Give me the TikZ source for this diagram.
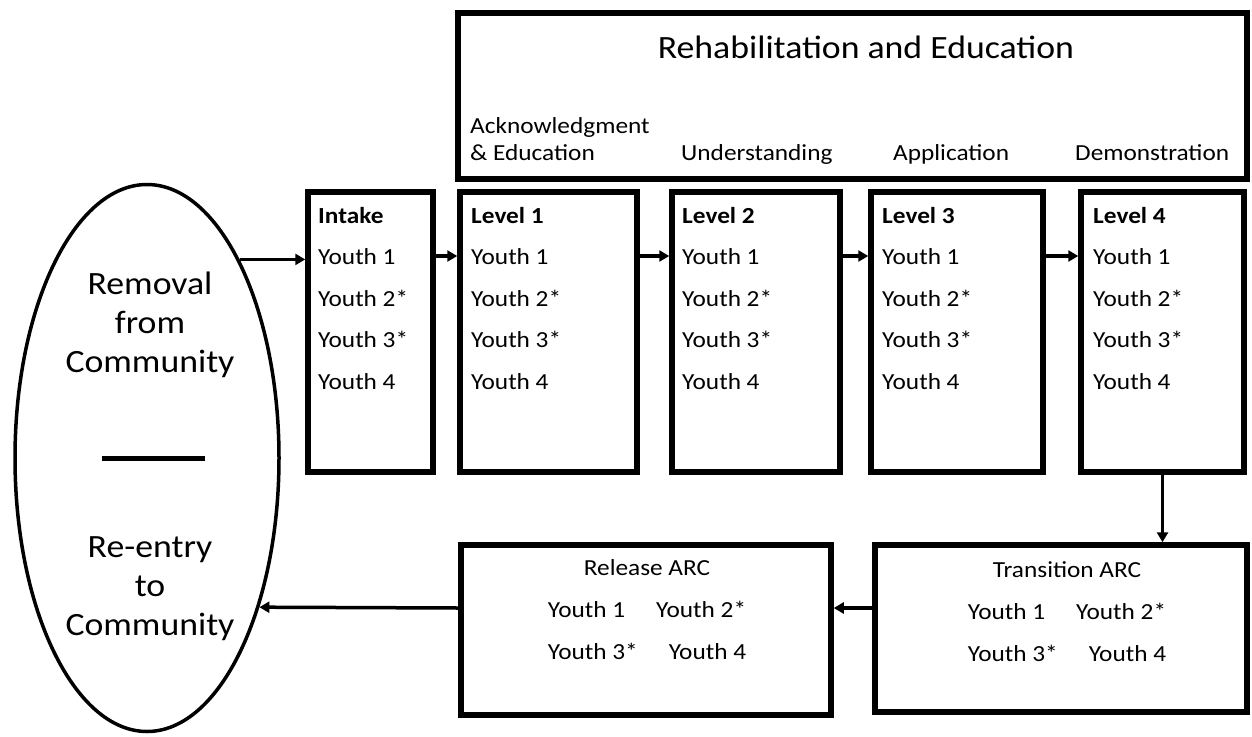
\documentclass[tikz,border=0pt]{standalone}
\usepackage{fontspec}
\setmainfont{Carlito}[FakeStretch=1.1]
\usetikzlibrary{positioning,shapes.geometric,arrows.meta}

\begin{document}
\begin{tikzpicture}[
    x=1pt, y=-1pt,
    box/.style={draw, line width=5.5pt, inner sep=0pt},
    lvl/.style={box, minimum height=280pt},
    list/.style={font=\fontsize{23}{41.5}\selectfont, align=left, inner sep=0pt, anchor=base west},
    pair/.style={font=\fontsize{23}{42}\selectfont, align=center, inner sep=0pt},
    phase/.style={font=\fontsize{23}{27}\selectfont, align=left, inner sep=0pt, anchor=base west},
    arrow/.style={-{Triangle[length=10pt,width=11pt]}, line width=3.5pt}
]
    \useasboundingbox (0,0) rectangle (1252,736);

    \node[draw, ellipse, line width=3.5pt, minimum width=264pt, minimum height=547pt] (comm) at (147,458) {};
    \node[font=\fontsize{32.5}{39}\selectfont, align=center, inner sep=0pt] (removal) at (150,325) {Removal\\from\\Community};
    \node[font=\fontsize{32.5}{39}\selectfont, align=center, inner sep=0pt] (reentry) at (150,589) {Re-entry\\to\\Community};
    \draw[line width=5pt] ([xshift=-45pt]comm.center) -- ([xshift=58pt]comm.center);

    \node[box, minimum width=789pt, minimum height=166pt] (rehab) at (852.5,96) {};
    \node[font=\fontsize{32.5}{38}\selectfont, inner sep=0pt, anchor=base] (title) at (866,58) {Rehabilitation and Education};
    \node[phase] (ack) at (470,160) {Acknowledgment\\\& Education};
    \node[phase] (und) at (681,160) {Understanding};
    \node[phase] (app) at (893,160) {Application};
    \node[phase] (dem) at (1075,160) {Demonstration};

    \node[lvl, minimum width=125pt] (intake) at (370.5,332) {};
    \node[lvl, minimum width=177pt] (l1) at (548.5,332) {};
    \node[lvl, minimum width=168pt] (l2) at (756,332) {};
    \node[lvl, minimum width=172pt] (l3) at (957,332) {};
    \node[lvl, minimum width=163pt] (l4) at (1162.5,332) {};

    \node[list] (intake-t) at (318,389) {\textbf{Intake}\\Youth 1\\Youth 2*\\Youth 3*\\Youth 4};
    \node[list] (l1-t) at (471,389) {\textbf{Level 1}\\Youth 1\\Youth 2*\\Youth 3*\\Youth 4};
    \node[list] (l2-t) at (682,389) {\textbf{Level 2}\\Youth 1\\Youth 2*\\Youth 3*\\Youth 4};
    \node[list] (l3-t) at (882,389) {\textbf{Level 3}\\Youth 1\\Youth 2*\\Youth 3*\\Youth 4};
    \node[list] (l4-t) at (1093,389) {\textbf{Level 4}\\Youth 1\\Youth 2*\\Youth 3*\\Youth 4};

    \node[box, minimum width=370pt, minimum height=170pt] (rel) at (646,630) {};
    \node[box, minimum width=372pt, minimum height=167pt] (trans) at (1061,628.5) {};
    \node[pair] (rel-t) at (647,610) {Release ARC\\Youth 1\hspace{31pt}Youth 2*\\Youth 3*\hspace{31pt}Youth 4};
    \node[pair] (trans-t) at (1067,612) {Transition ARC\\Youth 1\hspace{31pt}Youth 2*\\Youth 3*\hspace{31pt}Youth 4};

    \coordinate (row) at (0,256);
    \coordinate (back) at (0,608);

    \draw[arrow] (comm.65.7) -- (intake.west |- comm.65.7);
    \draw[arrow] (intake.east |- row) -- (l1.west |- row);
    \draw[arrow] (l1.east |- row) -- (l2.west |- row);
    \draw[arrow] (l2.east |- row) -- (l3.west |- row);
    \draw[arrow] (l3.east |- row) -- (l4.west |- row);
    \draw[arrow] (l4.south) -- (l4.south |- trans.north);
    \draw[arrow] (trans.west |- back) -- (rel.east |- back);
    \draw[arrow] (rel.west |- back) -- (comm.-53.3);
\end{tikzpicture}
\end{document}
